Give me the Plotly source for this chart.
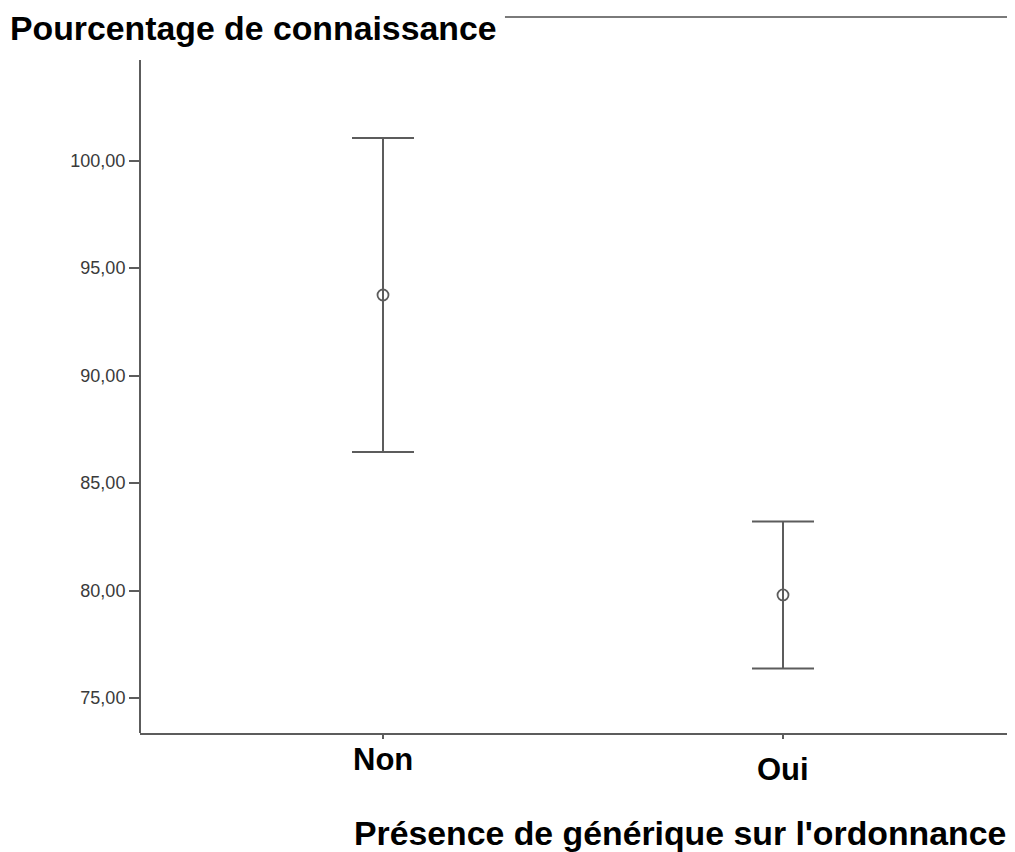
import plotly.graph_objects as go

# ---- data ----
categories = ["Non", "Oui"]
means = [93.75, 79.80]
ci_lower = [86.45, 76.38]
ci_upper = [101.05, 83.22]
y_ticks = [75, 80, 85, 90, 95, 100]

title_text = "Pourcentage de connaissance"
x_title_text = "Présence de générique sur l'ordonnance"

FONT = "Liberation Sans, Arial, sans-serif"
LINE = "#5c5c5c"

x_idx = list(range(len(categories)))
err_plus = [u - m for u, m in zip(ci_upper, means)]
err_minus = [m - l for m, l in zip(means, ci_lower)]

fig = go.Figure()
fig.add_trace(go.Scatter(
    x=x_idx, y=means, mode="markers",
    marker=dict(symbol="circle-open", size=11, color=LINE, line=dict(width=1.8, color=LINE)),
    error_y=dict(type="data", symmetric=False, array=err_plus, arrayminus=err_minus,
                 width=31, thickness=2, color=LINE),
    showlegend=False, hoverinfo="skip",
))

fig.update_layout(
    width=1007, height=844,
    margin=dict(l=132, r=0, t=9, b=119),
    paper_bgcolor="white", plot_bgcolor="white",
    separators=", ",
    font=dict(family=FONT),
    xaxis=dict(range=[-0.6075, 1.58], tickvals=x_idx, showticklabels=False,
               ticks="outside", ticklen=4, tickwidth=2, tickcolor=LINE,
               showline=True, linecolor=LINE, linewidth=2,
               showgrid=False, zeroline=False, fixedrange=True),
    yaxis=dict(range=[73.38, 106.68], tickvals=y_ticks, tickformat=".2f",
               ticks="outside", ticklen=10, tickwidth=2, tickcolor=LINE,
               tickfont=dict(size=18, color="#3a3a3a", family=FONT),
               showline=False, showgrid=False, zeroline=False, fixedrange=True),
    shapes=[
        dict(type="line", xref="paper", yref="paper", x0=0, x1=0, y0=0, y1=0.94,
             line=dict(color=LINE, width=2)),
        dict(type="line", xref="paper", yref="paper", x0=0.4171, x1=1, y0=1, y1=1,
             line=dict(color="#7a7a7a", width=2)),
    ],
)

annotations = [
    dict(text=title_text, xref="paper", yref="paper", x=-0.1509, y=0.9846,
         xanchor="left", yanchor="middle", showarrow=False,
         font=dict(size=33.8, color="black", family=FONT, weight="bold")),
    dict(text=x_title_text, xref="paper", yref="paper", x=0.2423, y=-0.1397,
         xanchor="left", yanchor="middle", showarrow=False,
         font=dict(size=33.8, color="black", family=FONT, weight="bold")),
]
label_shift = [-26, -36]
for i, cat in enumerate(categories):
    annotations.append(dict(text=cat, xref="x", yref="paper", x=x_idx[i], y=0,
                            xanchor="center", yanchor="middle", yshift=label_shift[i],
                            showarrow=False,
                            font=dict(size=31, color="black", family=FONT, weight="bold")))
fig.update_layout(annotations=annotations)

fig.write_html("out.html")
